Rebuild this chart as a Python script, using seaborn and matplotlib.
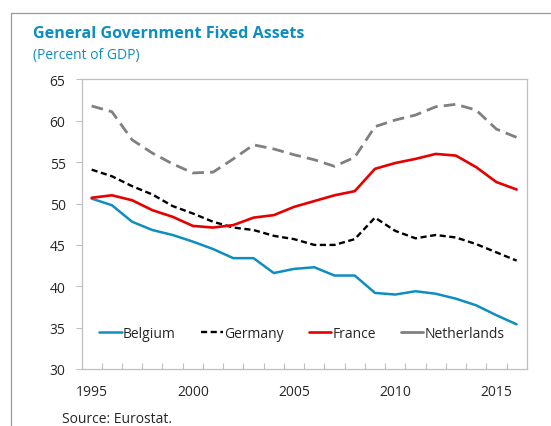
import matplotlib

matplotlib.use("Agg")
import matplotlib.pyplot as plt
import pandas as pd
import seaborn as sns
from matplotlib.lines import Line2D
from matplotlib.ticker import FixedLocator, MultipleLocator

years = list(range(1995, 2017))
belgium = [50.6, 49.8, 47.8, 46.8, 46.2, 45.4, 44.5, 43.4, 43.4, 41.6, 42.1, 42.3, 41.3, 41.3,
           39.2, 39.0, 39.4, 39.1, 38.5, 37.7, 36.5, 35.4]
germany = [54.1, 53.3, 52.1, 51.1, 49.7, 48.8, 47.8, 47.1, 46.8, 46.1, 45.7, 45.0, 45.0, 45.7,
           48.3, 46.7, 45.8, 46.2, 45.9, 45.1, 44.1, 43.1]
france = [50.7, 51.0, 50.4, 49.2, 48.4, 47.3, 47.1, 47.4, 48.3, 48.6, 49.6, 50.3, 51.0, 51.5,
          54.2, 54.9, 55.4, 56.0, 55.8, 54.4, 52.6, 51.7]
netherlands = [61.8, 61.1, 57.7, 56.1, 54.8, 53.7, 53.8, 55.4, 57.1, 56.6, 55.9, 55.3, 54.5, 55.6,
               59.3, 60.1, 60.7, 61.7, 62.0, 61.3, 59.0, 58.0]

series = {"Belgium": belgium, "Germany": germany, "France": france, "Netherlands": netherlands}
styles = {
    "Belgium": dict(color="#0E8EC0", lw=1.8, linestyle="-"),
    "Germany": dict(color="black", lw=1.7, linestyle=(0, (2.6, 1.5))),
    "France": dict(color="#E60000", lw=1.9, linestyle="-"),
    "Netherlands": dict(color="#808080", lw=2.0, linestyle=(0, (4.2, 2.2))),
}

sns.set_style("white")
plt.rcParams["font.family"] = ["Open Sans", "DejaVu Sans"]

fig = plt.figure(figsize=(5.51, 4.27), dpi=100)
ax = fig.add_axes([0.148, 0.1335, 0.808, 0.678])

df = pd.DataFrame({"year": years, **series})
for name in series:
    sns.lineplot(data=df, x="year", y=name, ax=ax, label=name, **styles[name])

ax.set_xlim(1994.5, 2016.5)
ax.set_ylim(30, 65)
ax.set_xlabel("")
ax.set_ylabel("")
ax.yaxis.set_major_locator(MultipleLocator(5))
ax.xaxis.set_major_locator(FixedLocator([1995, 2000, 2005, 2010, 2015]))
ax.xaxis.set_minor_locator(FixedLocator([y + 0.5 for y in years[:-1]]))
ax.tick_params(axis="x", which="major", length=0, pad=11, labelsize=10)
ax.tick_params(axis="x", which="minor", direction="in", length=4, width=0.8, color="#BFBFBF", bottom=True)
ax.tick_params(axis="y", which="major", direction="out", length=4.5, width=0.8, color="#BFBFBF",
               pad=7, labelsize=10, left=True)
for sp in ax.spines.values():
    sp.set_color("#BFBFBF")
    sp.set_linewidth(0.9)

leg = ax.legend(loc="center left", bbox_to_anchor=(0.04, 0.124), ncol=4, frameon=False, fontsize=10,
                handlelength=1.6, handletextpad=0.1, columnspacing=1.8, borderpad=0, borderaxespad=0)
# the reference legend shows the Netherlands sample as a short solid grey bar
leg.get_lines()[3].set_linestyle("-")

fig.text(0.060, 0.9103, "General Government Fixed Assets", color="#0E8EC0", fontsize=11.6,
         fontweight="bold", va="baseline", ha="left")
fig.text(0.060, 0.8618, "(Percent of GDP)", color="#0E8EC0", fontsize=10, va="baseline", ha="left")
fig.text(0.113, 0.010, "Source: Eurostat.", fontsize=10, va="baseline", ha="left")

# outer frame (left and top)
fig.add_artist(Line2D([10.5 / 551, 10.5 / 551], [0, 1 - 13.5 / 427], color="#9A9A9A", lw=0.9))
fig.add_artist(Line2D([10.5 / 551, 1], [1 - 13.5 / 427, 1 - 13.5 / 427], color="#9A9A9A", lw=0.9))

fig.savefig("out.png", dpi=100)
